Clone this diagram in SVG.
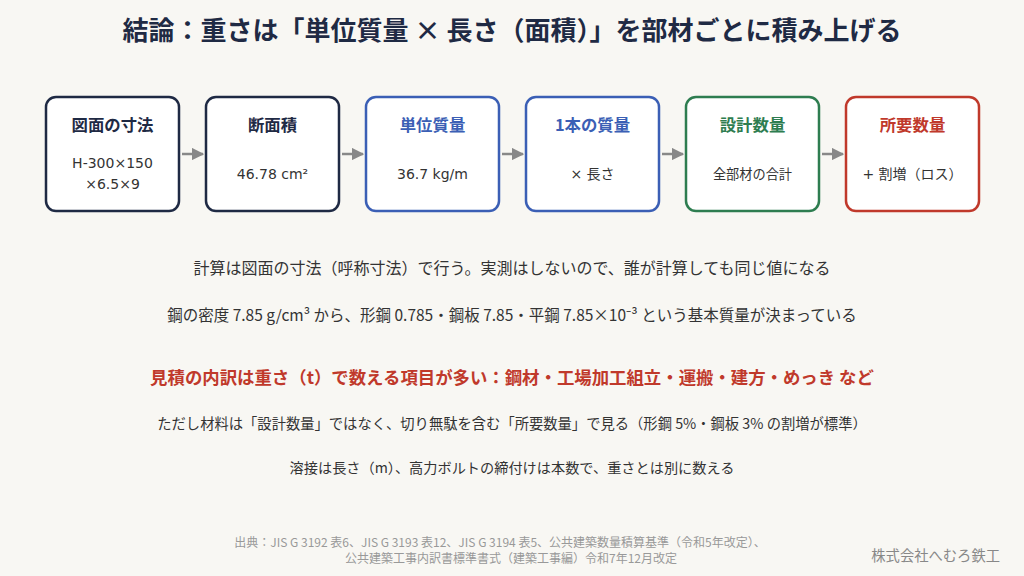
<svg xmlns="http://www.w3.org/2000/svg" width="1024" height="576" viewBox="0 0 1024 576">
<defs>
<marker id="arr" viewBox="0 0 10 10" refX="9" refY="5" markerWidth="5" markerHeight="5" orient="auto"><path d="M0,0 L10,5 L0,10 z" fill="#888"/></marker>
<style>
text{font-family:"Noto Sans CJK JP","Noto Sans",sans-serif;}
.box{fill:#fff;stroke-width:2.5;}
.navy{stroke:#1f2a44}.blue{stroke:#3b5fb5}.green{stroke:#2e7d50}.red{stroke:#c0392b}
.t{font-size:16.4px;font-weight:bold;text-anchor:middle;}
.v{font-size:14px;fill:#333;text-anchor:middle;font-family:"DejaVu Sans","Noto Sans CJK JP",sans-serif;}
.conn{stroke:#888;stroke-width:2.5;fill:none;marker-end:url(#arr);}
.body{fill:#333;text-anchor:middle;}
.src{font-size:12px;fill:#999;text-anchor:middle;}
</style>
</defs>
<rect width="1024" height="576" fill="#f8f7f3"/>
<text x="512" y="40" font-size="26" font-weight="bold" fill="#1f2a44" text-anchor="middle">結論：重さは「単位質量 × 長さ（面積）」を部材ごとに積み上げる</text>
<g id="connectors">
<line class="conn" x1="182" y1="154" x2="203" y2="154"/>
<line class="conn" x1="342" y1="154" x2="363" y2="154"/>
<line class="conn" x1="502" y1="154" x2="523" y2="154"/>
<line class="conn" x1="662" y1="154" x2="683" y2="154"/>
<line class="conn" x1="822" y1="154" x2="843" y2="154"/>
</g>
<g id="n1"><rect class="box navy" x="46" y="97" width="133" height="114" rx="10"/>
<text class="t" x="112.5" y="131" fill="#1f2a44">図面の寸法</text>
<text class="v" x="112.5" y="168">H-300×150</text><text class="v" x="112.5" y="189">×6.5×9</text></g>
<g id="n2"><rect class="box navy" x="206" y="97" width="133" height="114" rx="10"/>
<text class="t" x="272.5" y="131" fill="#1f2a44">断面積</text>
<text class="v" x="272.5" y="179">46.78 cm²</text></g>
<g id="n3"><rect class="box blue" x="366" y="97" width="133" height="114" rx="10"/>
<text class="t" x="432.5" y="131" fill="#3b5fb5">単位質量</text>
<text class="v" x="432.5" y="179">36.7 kg/m</text></g>
<g id="n4"><rect class="box blue" x="526" y="97" width="133" height="114" rx="10"/>
<text class="t" x="592.5" y="131" fill="#3b5fb5">1本の質量</text>
<text class="v" x="592.5" y="179">× 長さ</text></g>
<g id="n5"><rect class="box green" x="686" y="97" width="133" height="114" rx="10"/>
<text class="t" x="752.5" y="131" fill="#2e7d50">設計数量</text>
<text class="v" x="752.5" y="179" style="font-size:13.2px">全部材の合計</text></g>
<g id="n6"><rect class="box red" x="846" y="97" width="133" height="114" rx="10"/>
<text class="t" x="912.5" y="131" fill="#c0392b">所要数量</text>
<text class="v" x="912.5" y="179">+ 割増（ロス）</text></g>
<text class="body" x="512" y="274" style="font-size:16px">計算は図面の寸法（呼称寸法）で行う。実測はしないので、誰が計算しても同じ値になる</text>
<text class="body" x="512" y="321" style="font-size:15.5px">鋼の密度 7.85 g/cm³ から、形鋼 0.785・鋼板 7.85・平鋼 7.85×10⁻³ という基本質量が決まっている</text>
<text x="512" y="384" font-size="17.4" font-weight="bold" fill="#c0392b" text-anchor="middle">見積の内訳は重さ（t）で数える項目が多い：鋼材・工場加工組立・運搬・建方・めっき など</text>
<text class="body" x="512" y="429" style="font-size:14.3px">ただし材料は「設計数量」ではなく、切り無駄を含む「所要数量」で見る（形鋼 5%・鋼板 3% の割増が標準）</text>
<text class="body" x="512" y="473" style="font-size:14.2px">溶接は長さ（m）、高力ボルトの締付けは本数で、重さとは別に数える</text>
<text class="src" x="500" y="547">出典：JIS G 3192 表6、JIS G 3193 表12、JIS G 3194 表5、公共建築数量積算基準（令和5年改定）、</text>
<text class="src" x="511" y="563">公共建築工事内訳書標準書式（建築工事編）令和7年12月改定</text>
<text x="1000" y="561" font-size="14.3" fill="#888" text-anchor="end">株式会社へむろ鉄工</text>
</svg>
